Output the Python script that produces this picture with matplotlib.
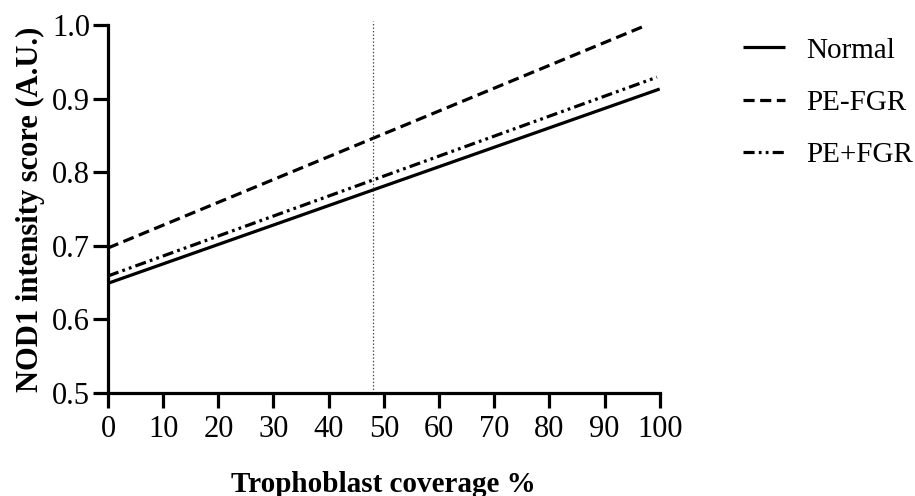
import matplotlib
matplotlib.use("Agg")
import matplotlib.pyplot as plt

plt.rcParams['font.family'] = ['Liberation Serif', 'DejaVu Serif']
plt.rcParams['lines.scale_dashes'] = False

# Data (regression lines)
series_names = ["Normal", "PE-FGR", "PE+FGR"]
normal_x = [0, 100]
normal_y = [0.649, 0.913]
pefgr_x = [0, 97.7]
pefgr_y = [0.697, 1.0]
pepfgr_x = [0, 99.5]
pepfgr_y = [0.659, 0.929]
vline_x = 48

xticks = [0, 10, 20, 30, 40, 50, 60, 70, 80, 90, 100]
yticks = [0.5, 0.6, 0.7, 0.8, 0.9, 1.0]
ytick_labels = ["0.5", "0.6", "0.7", "0.8", "0.9", "1.0"]

fig = plt.figure(figsize=(9.15, 4.96), dpi=100)
ax = fig.add_axes([0.118, 0.2077, 0.603, 0.742])

lw = 2.3
ax.plot(normal_x, normal_y, color='black', lw=lw, ls='-', label=series_names[0], solid_capstyle='butt')
ax.plot(pefgr_x, pefgr_y, color='black', lw=lw, ls=(0, (8, 4)), label=series_names[1], dash_capstyle='butt')
ax.plot(pepfgr_x, pepfgr_y, color='black', lw=lw, ls=(0, (8, 3, 2, 3, 2, 3)), label=series_names[2], dash_capstyle='butt')
ax.axvline(vline_x, ymin=0, ymax=1.01, color='#444444', lw=0.9, ls=(0, (1, 1.5)), clip_on=False)

ax.set_xlim(0, 100)
ax.set_ylim(0.5, 1.0)
ax.set_xticks(xticks)
ax.set_xticklabels([str(v) for v in xticks])
ax.set_yticks(yticks)
ax.set_yticklabels(ytick_labels)

for s in ['top', 'right']:
    ax.spines[s].set_visible(False)
for s in ['left', 'bottom']:
    ax.spines[s].set_linewidth(2.3)
    ax.spines[s].set_capstyle('projecting')

ax.tick_params(axis='both', which='major', length=11, width=2.3, labelsize=22, color='black')
ax.tick_params(axis='x', pad=5)
ax.tick_params(axis='y', pad=2)

ax.set_xlabel("Trophoblast coverage %", fontsize=21, fontweight='bold', labelpad=19)
ax.set_ylabel("NOD1 intensity score (A.U.)", fontsize=22, fontweight='bold', labelpad=5)

leg = ax.legend(loc='upper left', bbox_to_anchor=(0.812, 0.925), bbox_transform=fig.transFigure,
                frameon=False, fontsize=21, handlelength=1.43, handletextpad=0.75,
                labelspacing=0.89, borderaxespad=0, borderpad=0)

fig.savefig("out.png", dpi=100)
